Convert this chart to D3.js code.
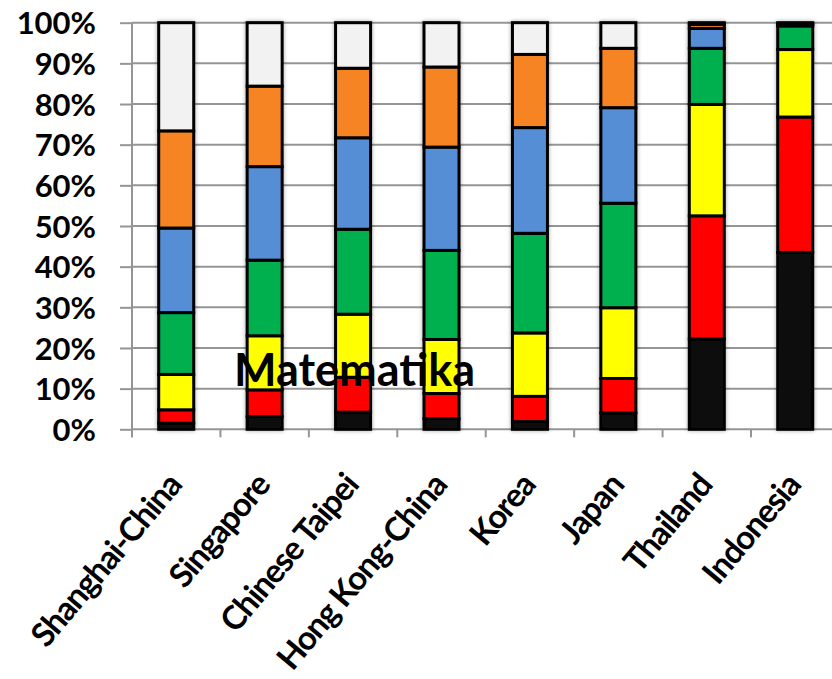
<!DOCTYPE html>
<html>
<head>
<meta charset="utf-8">
<script src="https://cdn.jsdelivr.net/npm/d3@7"></script>
<style>
  html, body { margin: 0; padding: 0; background: #fff; }
  svg { display: block; }
</style>
</head>
<body>
<svg id="chart" width="832" height="679"></svg>
<script>
// ---- data (PISA mathematics proficiency distribution, % of students) ----
const categories = ["Shanghai-China", "Singapore", "Chinese Taipei", "Hong Kong-China", "Korea", "Japan", "Thailand", "Indonesia"];
const seriesNames = ["Below Level 1", "Level 1", "Level 2", "Level 3", "Level 4", "Level 5", "Level 6"];
const belowLevel1 = [1.5, 3.1, 4.2, 2.6, 1.9, 4.0, 22.2, 43.5];
const level1      = [3.3, 6.6, 8.6, 6.2, 6.2, 8.5, 30.3, 33.3];
const level2      = [8.7, 13.3, 15.5, 13.3, 15.6, 17.4, 27.4, 16.6];
const level3      = [15.2, 18.6, 20.9, 21.9, 24.5, 25.7, 13.8, 5.8];
const level4      = [20.8, 23.0, 22.5, 25.4, 26.0, 23.5, 4.9, 0.4];
const level5      = [23.9, 19.8, 17.1, 19.7, 18.0, 14.6, 1.0, 0.2];
const level6      = [26.6, 15.6, 11.2, 10.9, 7.8, 6.3, 0.4, 0.2];
const yTicks = [0, 10, 20, 30, 40, 50, 60, 70, 80, 90, 100];
const titleText = "Matematika";

const seriesValues = [belowLevel1, level1, level2, level3, level4, level5, level6];
const colors = ["#0d0d0d", "#ff0000", "#ffff00", "#00b050", "#558ed5", "#f68424", "#f2f2f2"];

// ---- layout ----
const svg = d3.select("#chart");
const plotLeft = 132, step = 88.43, plotTop = 22.7, plotBottom = 429.3;
const barW = 35;
const font = "Lato, 'Open Sans', sans-serif";

const x = d3.scaleBand().domain(categories).range([plotLeft, plotLeft + step * categories.length]).padding(0);
const y = d3.scaleLinear().domain([0, 100]).range([plotBottom, plotTop]);

const table = categories.map((c, i) => {
  const row = { category: c };
  seriesNames.forEach((s, j) => row[s] = seriesValues[j][i]);
  return row;
});
const stacked = d3.stack().keys(seriesNames)(table);

const defs = svg.append("defs");
const f = defs.append("filter").attr("id", "shadow").attr("x", "-30%").attr("y", "-5%").attr("width", "160%").attr("height", "110%");
f.append("feGaussianBlur").attr("in", "SourceAlpha").attr("stdDeviation", 2.2).attr("result", "b");
f.append("feComponentTransfer").attr("in", "b").attr("result", "b2")
  .append("feFuncA").attr("type", "linear").attr("slope", 0.35);
const m = f.append("feMerge");
m.append("feMergeNode").attr("in", "b2");
m.append("feMergeNode").attr("in", "SourceGraphic");

// gridlines + y ticks
const yAxis = d3.axisLeft(y).tickValues(yTicks).tickSize(12).tickPadding(24).tickFormat(d => d + "%");
const gy = svg.append("g").attr("transform", `translate(${plotLeft},0)`).call(yAxis);
gy.select(".domain").remove();
gy.selectAll(".tick line").attr("stroke", "#959595").attr("stroke-width", 2);
gy.selectAll(".tick text").attr("fill", "#000").style("font-family", font).style("font-weight", "bold").style("font-size", "31px").attr("dy", "0.36em");

svg.append("g").selectAll("line").data(yTicks).join("line")
  .attr("x1", plotLeft).attr("x2", 832).attr("y1", d => y(d)).attr("y2", d => y(d))
  .attr("stroke", "#959595").attr("stroke-width", 2);

// y axis line
svg.append("line").attr("x1", plotLeft).attr("x2", plotLeft).attr("y1", plotTop).attr("y2", plotBottom + 8)
  .attr("stroke", "#959595").attr("stroke-width", 2);

// x axis category ticks at band boundaries
svg.append("g").selectAll("line").data(categories).join("line")
  .attr("x1", d => x(d)).attr("x2", d => x(d)).attr("y1", plotBottom).attr("y2", plotBottom + 8)
  .attr("stroke", "#959595").attr("stroke-width", 2);

// bars
const barsG = svg.append("g").attr("filter", "url(#shadow)");
stacked.forEach((layer, j) => {
  barsG.append("g").selectAll("rect").data(layer).join("rect")
    .attr("x", d => x(d.data.category) + (x.bandwidth() - barW) / 2)
    .attr("width", barW)
    .attr("y", d => y(d[1]))
    .attr("height", d => Math.max(0, y(d[0]) - y(d[1])))
    .attr("fill", colors[j])
    .attr("stroke", "#000").attr("stroke-width", 3);
});

// category labels
svg.append("g").selectAll("text").data(categories).join("text")
  .attr("transform", d => `translate(${x(d) + x.bandwidth() / 2 + 7},${486}) rotate(-50)`)
  .attr("text-anchor", "end")
  .style("font-family", font).style("font-weight", "bold").style("font-size", "33px")
  .style("letter-spacing", "-1.2px")
  .attr("fill", "#000")
  .text(d => d);

// overlay title text
svg.append("text").attr("x", 234).attr("y", 386)
  .style("font-family", font).style("font-weight", "bold").style("font-size", "45px")
  .attr("fill", "#000").text(titleText);
</script>
</body>
</html>
